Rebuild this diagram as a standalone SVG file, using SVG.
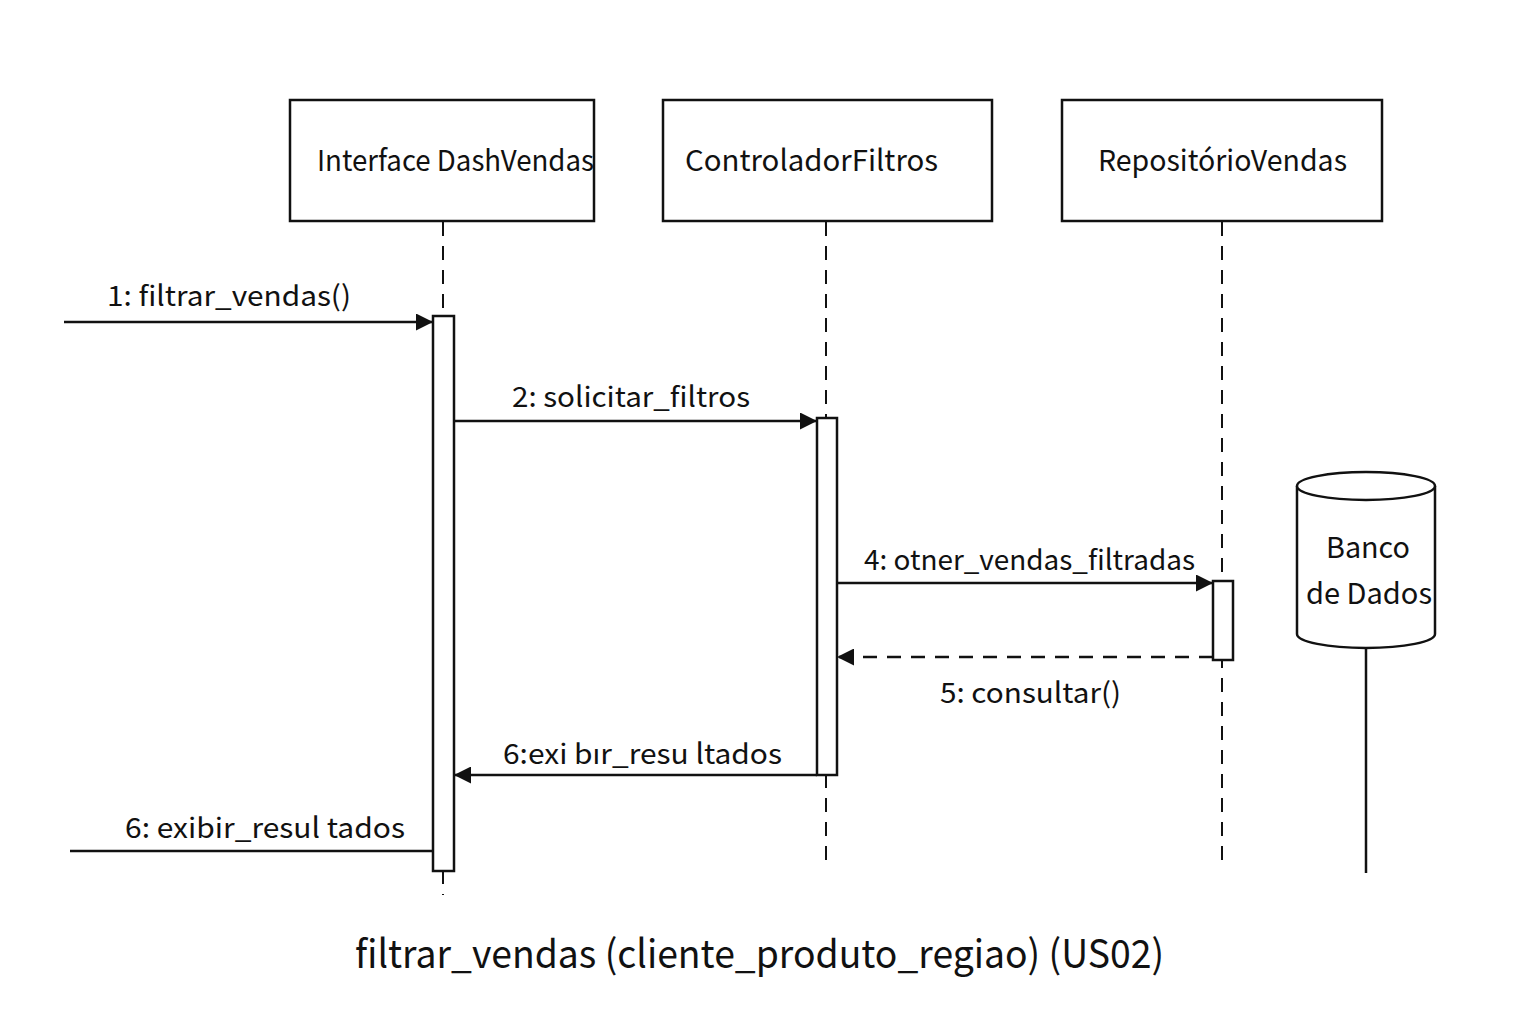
<svg xmlns="http://www.w3.org/2000/svg" width="1536" height="1024" viewBox="0 0 1536 1024">
<defs>
<style>
text{font-family:"Noto Sans CJK JP","Noto Sans",sans-serif;fill:#111;}
.box{fill:#fff;stroke:#111;stroke-width:2.5;}
.life{stroke:#111;stroke-width:2;stroke-dasharray:14,10;fill:none;}
.act{fill:#fff;stroke:#111;stroke-width:2.5;}
.msg{stroke:#111;stroke-width:2.5;fill:none;}
.ret{stroke:#111;stroke-width:2.5;fill:none;stroke-dasharray:14,10;}
.lbl{font-size:28px;}
.name{font-size:29px;}
</style>
<marker id="ah" viewBox="0 0 10 10" refX="10" refY="5" markerWidth="18" markerHeight="17" markerUnits="userSpaceOnUse" orient="auto">
<path d="M0,0 L10,5 L0,10 Z" fill="#111"/>
</marker>
</defs>
<rect width="1536" height="1024" fill="#fff"/>
<g id="lifelines">
<line class="life" x1="443" y1="222" x2="443" y2="895"/>
<line class="life" x1="826" y1="222" x2="826" y2="868"/>
<line class="life" x1="1222" y1="222" x2="1222" y2="868"/>
</g>
<g id="node-interface">
<rect class="box" x="290" y="100" width="304" height="121"/>
<text class="name" x="317" y="171" textLength="277" lengthAdjust="spacingAndGlyphs">Interface DashVendas</text>
</g>
<g id="node-controlador">
<rect class="box" x="663" y="100" width="329" height="121"/>
<text class="name" x="685" y="171" textLength="253" lengthAdjust="spacingAndGlyphs">ControladorFiltros</text>
</g>
<g id="node-repositorio">
<rect class="box" x="1062" y="100" width="320" height="121"/>
<text class="name" x="1098" y="171" textLength="249" lengthAdjust="spacingAndGlyphs">RepositórioVendas</text>
</g>
<g id="node-banco">
<path class="box" d="M1297,486 L1297,634 A69,14 0 0 0 1435,634 L1435,486"/>
<ellipse class="box" cx="1366" cy="486" rx="69" ry="14"/>
<text class="name" x="1326" y="558" textLength="84" lengthAdjust="spacingAndGlyphs">Banco</text>
<text class="name" x="1306" y="604" textLength="126" lengthAdjust="spacingAndGlyphs">de Dados</text>
<line class="msg" x1="1366" y1="648" x2="1366" y2="873"/>
</g>
<g id="activations">
<rect class="act" x="433" y="316" width="21" height="555"/>
<rect class="act" x="817" y="418" width="20" height="357"/>
<rect class="act" x="1213" y="581" width="20" height="79"/>
</g>
<g id="connectors">
<line class="msg" x1="64" y1="322" x2="433" y2="322" marker-end="url(#ah)"/>
<line class="msg" x1="454" y1="421" x2="817" y2="421" marker-end="url(#ah)"/>
<line class="msg" x1="837" y1="583" x2="1213" y2="583" marker-end="url(#ah)"/>
<line class="ret" x1="1213" y1="657" x2="837" y2="657" marker-end="url(#ah)"/>
<line class="msg" x1="817" y1="775" x2="454" y2="775" marker-end="url(#ah)"/>
<line class="msg" x1="70" y1="851" x2="433" y2="851"/>
</g>
<g id="labels">
<text class="lbl" x="107" y="306" textLength="244" lengthAdjust="spacingAndGlyphs">1: filtrar_vendas()</text>
<text class="lbl" x="512" y="407" textLength="238" lengthAdjust="spacingAndGlyphs">2: solicitar_filtros</text>
<text class="lbl" x="864" y="570" textLength="331" lengthAdjust="spacingAndGlyphs">4: otner_vendas_filtradas</text>
<text class="lbl" x="940" y="703" textLength="181" lengthAdjust="spacingAndGlyphs">5: consultar()</text>
<text class="lbl" x="503" y="764" textLength="279" lengthAdjust="spacingAndGlyphs">6:exi bır_resu ltados</text>
<text class="lbl" x="125" y="838" textLength="280" lengthAdjust="spacingAndGlyphs">6: exibir_resul tados</text>
</g>
<text x="355" y="968" font-size="39" textLength="809" lengthAdjust="spacingAndGlyphs">filtrar_vendas (cliente_produto_regiao) (US02)</text>
</svg>
